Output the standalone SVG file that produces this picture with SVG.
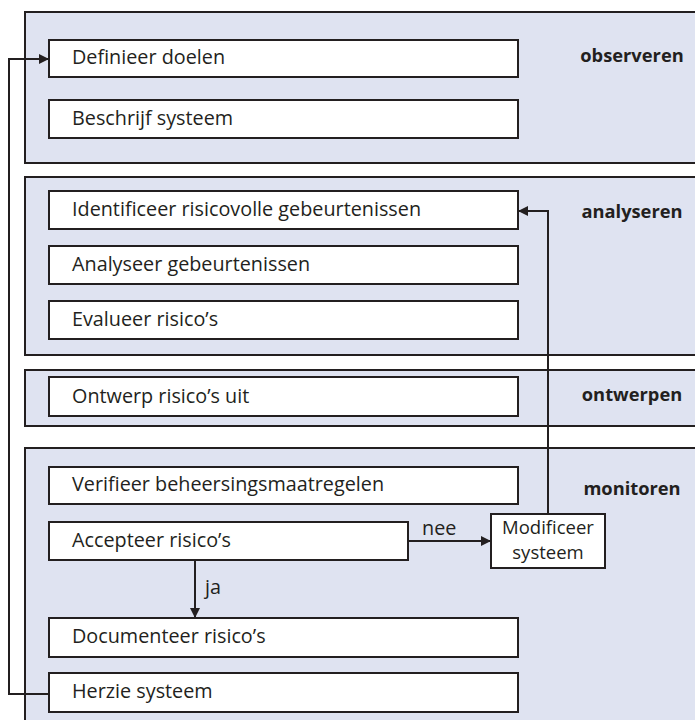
<svg xmlns="http://www.w3.org/2000/svg" width="695" height="720" viewBox="0 0 695 720">
  <style>
    .panel { fill: #dfe3f1; stroke: #231f20; stroke-width: 2; }
    .box { fill: #ffffff; stroke: #231f20; stroke-width: 2; }
    .txt { font-family: "Open Sans", "Noto Sans", sans-serif; font-size: 19.8px; fill: #231f20; }
    .small { font-size: 18.5px; text-anchor: middle; }
    .phase { font-family: "Open Sans", "Noto Sans", sans-serif; font-size: 18.3px; font-weight: bold; fill: #231f20; text-anchor: middle; }
    .link { fill: none; stroke: #231f20; stroke-width: 2; }
  </style>
  <defs>
    <marker id="arrow" viewBox="0 0 10 10" refX="10" refY="5" markerWidth="10" markerHeight="10" markerUnits="userSpaceOnUse" orient="auto">
      <path d="M0,0 L10,5 L0,10 Z" fill="#231f20"/>
    </marker>
  </defs>
  <rect width="695" height="720" fill="#ffffff"/>

  <!-- phase panels -->
  <g id="phase-observeren">
    <rect class="panel" x="25" y="12" width="680" height="151"/>
    <text class="phase" x="632" y="62">observeren</text>
  </g>
  <g id="phase-analyseren">
    <rect class="panel" x="25" y="177" width="680" height="178"/>
    <text class="phase" x="632" y="218">analyseren</text>
  </g>
  <g id="phase-ontwerpen">
    <rect class="panel" x="25" y="370" width="680" height="56"/>
    <text class="phase" x="632" y="401">ontwerpen</text>
  </g>
  <g id="phase-monitoren">
    <rect class="panel" x="25" y="448" width="680" height="290"/>
    <text class="phase" x="632" y="495">monitoren</text>
  </g>

  <!-- steps -->
  <g id="definieer-doelen">
    <rect class="box" x="49" y="40" width="469" height="37"/>
    <text class="txt" x="72" y="64">Definieer doelen</text>
  </g>
  <g id="beschrijf-systeem">
    <rect class="box" x="49" y="100" width="469" height="38"/>
    <text class="txt" x="72" y="125">Beschrijf systeem</text>
  </g>
  <g id="identificeer">
    <rect class="box" x="49" y="191" width="469" height="38"/>
    <text class="txt" x="72" y="216">Identificeer risicovolle gebeurtenissen</text>
  </g>
  <g id="analyseer">
    <rect class="box" x="49" y="246" width="469" height="38"/>
    <text class="txt" x="72" y="271">Analyseer gebeurtenissen</text>
  </g>
  <g id="evalueer">
    <rect class="box" x="49" y="301" width="469" height="38"/>
    <text class="txt" x="72" y="326">Evalueer risico’s</text>
  </g>
  <g id="ontwerp">
    <rect class="box" x="49" y="377" width="469" height="39"/>
    <text class="txt" x="72" y="403">Ontwerp risico’s uit</text>
  </g>
  <g id="verifieer">
    <rect class="box" x="49" y="467" width="469" height="37"/>
    <text class="txt" x="72" y="491">Verifieer beheersingsmaatregelen</text>
  </g>
  <g id="accepteer">
    <rect class="box" x="49" y="522" width="359" height="38"/>
    <text class="txt" x="72" y="547">Accepteer risico’s</text>
  </g>
  <g id="modificeer">
    <rect class="box" x="491" y="514" width="114" height="54"/>
    <text class="txt small" x="548" y="533.5">Modificeer</text>
    <text class="txt small" x="548" y="559">systeem</text>
  </g>
  <g id="documenteer">
    <rect class="box" x="49" y="618" width="469" height="39"/>
    <text class="txt" x="72" y="643">Documenteer risico’s</text>
  </g>
  <g id="herzie">
    <rect class="box" x="49" y="673" width="469" height="39"/>
    <text class="txt" x="72" y="698">Herzie systeem</text>
  </g>

  <!-- connectors -->
  <g id="connectors">
    <path class="link" d="M49,694 H9 V59 H49" marker-end="url(#arrow)"/>
    <path class="link" d="M548,514 V211 H518" marker-end="url(#arrow)"/>
    <path class="link" d="M408,541 H491" marker-end="url(#arrow)"/>
    <text class="txt" x="422" y="535">nee</text>
    <path class="link" d="M195,560 V618" marker-end="url(#arrow)"/>
    <text class="txt" x="205" y="594">ja</text>
  </g>
</svg>
